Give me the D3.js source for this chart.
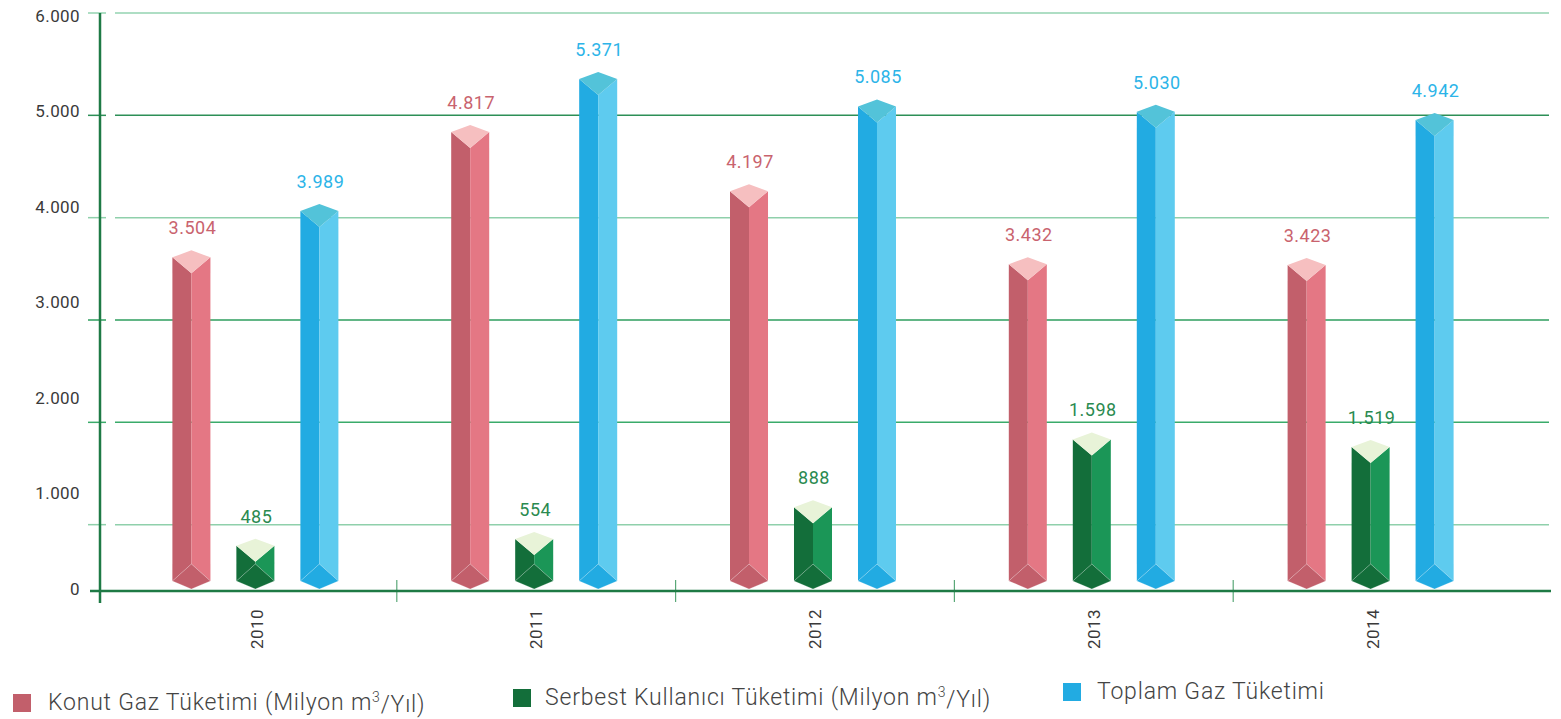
<!DOCTYPE html>
<html>
<head>
<meta charset="utf-8">
<script src="https://cdn.jsdelivr.net/npm/d3@7"></script>
<style>
  html, body { margin: 0; padding: 0; background: #fff; }
  svg { display: block; }
</style>
</head>
<body>
<div id="chart"></div>
<script>
(function () {
  const years = ["2010", "2011", "2012", "2013", "2014"];
  const seriesKeys = ["konut", "serbest", "toplam"];
  const seriesLabels = [
    "Konut Gaz Tüketimi (Milyon m",
    "Serbest Kullanıcı Tüketimi (Milyon m",
    "Toplam Gaz Tüketimi"
  ];
  const konut = [3504, 4817, 4197, 3432, 3423];
  const serbest = [485, 554, 888, 1598, 1519];
  const toplam = [3989, 5371, 5085, 5030, 4942];
  const yTicks = [0, 1000, 2000, 3000, 4000, 5000, 6000];

  const values = { konut, serbest, toplam };

  const W = 1561, H = 719;
  const FONT = 'Roboto, "Noto Sans", sans-serif';

  const COLORS = {
    konut:   { left: "#c25f6b", right: "#e47784", top: "#f6bfc0", label: "#c9636e", key: "#c25f6b" },
    serbest: { left: "#136e3a", right: "#1b9657", top: "#e8f3d8", label: "#2a8a50", key: "#136e3a" },
    toplam:  { left: "#22abe2", right: "#5ecbef", top: "#53c3d9", label: "#2cb4e8", key: "#22abe2" }
  };
  const AXIS = "#1e7a45";
  const GRID_COLORS = ["#8fd0ab", "#3aab6a", "#2e9e5e", "#8fd0ab", "#2d8f57", "#93d3b0"];

  const trFormat = d3.formatLocale({
    decimal: ",", thousands: ".", grouping: [3], currency: ["", " TL"]
  }).format(",d");

  const svg = d3.select("#chart").append("svg")
    .attr("width", W)
    .attr("height", H)
    .style("font-family", FONT);

  // value scale (bars + tick labels) and the slightly different grid scale
  const y = d3.scaleLinear().domain([0, 6000]).range([585, 12]);
  const gridY = d3.scaleLinear().domain([0, 6000]).range([627, 13]);
  const AXIS_Y = 591;
  const BASE_Y = 589;
  const AXIS_X = 100;

  const x0 = d3.scaleBand().domain(years).range([118, 1512]).padding(0);
  const x1 = d3.scaleBand().domain(seriesKeys).range([-85, 81]).paddingInner(0.406);

  // grid lines
  yTicks.filter(t => t > 0).forEach((t, i) => {
    const gy = gridY(t);
    const col = GRID_COLORS[i];
    svg.append("line")
      .attr("x1", 88).attr("x2", 106)
      .attr("y1", gy).attr("y2", gy)
      .attr("stroke", col).attr("stroke-width", 1.5);
    svg.append("line")
      .attr("x1", 115).attr("x2", 1549)
      .attr("y1", gy).attr("y2", gy)
      .attr("stroke", col).attr("stroke-width", 1.5);
  });

  // y tick labels
  svg.append("g").selectAll("text")
    .data(yTicks)
    .join("text")
    .attr("x", 80)
    .attr("y", d => y(d) + 4)
    .attr("dy", "0.35em")
    .attr("text-anchor", "end")
    .attr("font-size", 17)
    .attr("letter-spacing", 0.4)
    .attr("fill", "#3a3a3a")
    .text(d => trFormat(d));

  // x group separators
  years.slice(1).forEach(yr => {
    svg.append("line")
      .attr("x1", x0(yr)).attr("x2", x0(yr))
      .attr("y1", 580).attr("y2", 602)
      .attr("stroke", "#5aa878").attr("stroke-width", 1.2);
  });

  // axes
  svg.append("line")
    .attr("x1", 90).attr("x2", 1551)
    .attr("y1", AXIS_Y).attr("y2", AXIS_Y)
    .attr("stroke", AXIS).attr("stroke-width", 2.5);
  svg.append("line")
    .attr("x1", AXIS_X).attr("x2", AXIS_X)
    .attr("y1", 13).attr("y2", 603)
    .attr("stroke", AXIS).attr("stroke-width", 2.5);

  // year labels (rotated)
  years.forEach(yr => {
    const cx = x0(yr) + x0.bandwidth() / 2;
    svg.append("text")
      .attr("transform", `translate(${cx},629) rotate(-90)`)
      .attr("text-anchor", "middle")
      .attr("dy", "0.35em")
      .attr("font-size", 17)
      .attr("letter-spacing", 0.5)
      .attr("fill", "#3a3a3a")
      .text(yr);
  });

  // prism bars
  const line = d3.line();
  years.forEach((yr, i) => {
    const gc = x0(yr) + x0.bandwidth() / 2;
    seriesKeys.forEach(k => {
      const v = values[k][i];
      const c = COLORS[k];
      const xl = gc + x1(k);
      const xr = xl + x1.bandwidth();
      const xc = (xl + xr) / 2;
      const y0 = y(v);
      const yb = BASE_Y;
      const g = svg.append("g");

      g.append("path")
        .attr("d", line([[xl, y0 + 7], [xc, y0 + 23], [xc, yb - 25], [xl, yb - 8]]) + "Z")
        .attr("fill", c.left);
      g.append("path")
        .attr("d", line([[xc, y0 + 23], [xr, y0 + 7], [xr, yb - 8], [xc, yb - 25]]) + "Z")
        .attr("fill", c.right);
      g.append("path")
        .attr("d", line([[xc, y0], [xr, y0 + 7], [xc, y0 + 23], [xl, y0 + 7]]) + "Z")
        .attr("fill", c.top);
      g.append("path")
        .attr("d", line([[xl, yb - 8], [xc, yb - 25], [xr, yb - 8], [xc, yb]]) + "Z")
        .attr("fill", c.left)
        .attr("stroke", "rgba(255,255,255,0.35)")
        .attr("stroke-width", 0.6);

      g.append("text")
        .attr("x", xc + 1)
        .attr("y", y0 - 16)
        .attr("text-anchor", "middle")
        .attr("font-size", 18)
        .attr("letter-spacing", 0.5)
        .attr("fill", c.label)
        .text(trFormat(v));
    });
  });

  // legend
  const legendX = [13, 513, 1063];
  const legendTextX = [48, 545, 1097];
  const legendY = [703, 698, 692];
  seriesKeys.forEach((k, i) => {
    const ly = legendY[i];
    svg.append("rect")
      .attr("x", legendX[i]).attr("y", ly - 9)
      .attr("width", 18).attr("height", 18)
      .attr("fill", COLORS[k].key);
    const t = svg.append("text")
      .attr("x", legendTextX[i]).attr("y", ly - 1)
      .attr("dy", "0.35em")
      .attr("font-size", 23)
      .attr("font-weight", 300)
      .attr("letter-spacing", 0.8)
      .attr("fill", "#444")
      .text(seriesLabels[i]);
    if (k !== "toplam") {
      t.append("tspan").attr("font-size", 14).attr("dy", "-0.6em").text("3");
      t.append("tspan").attr("dy", "0.45em").text("/Yıl)");
    }
  });
})();
</script>
</body>
</html>
